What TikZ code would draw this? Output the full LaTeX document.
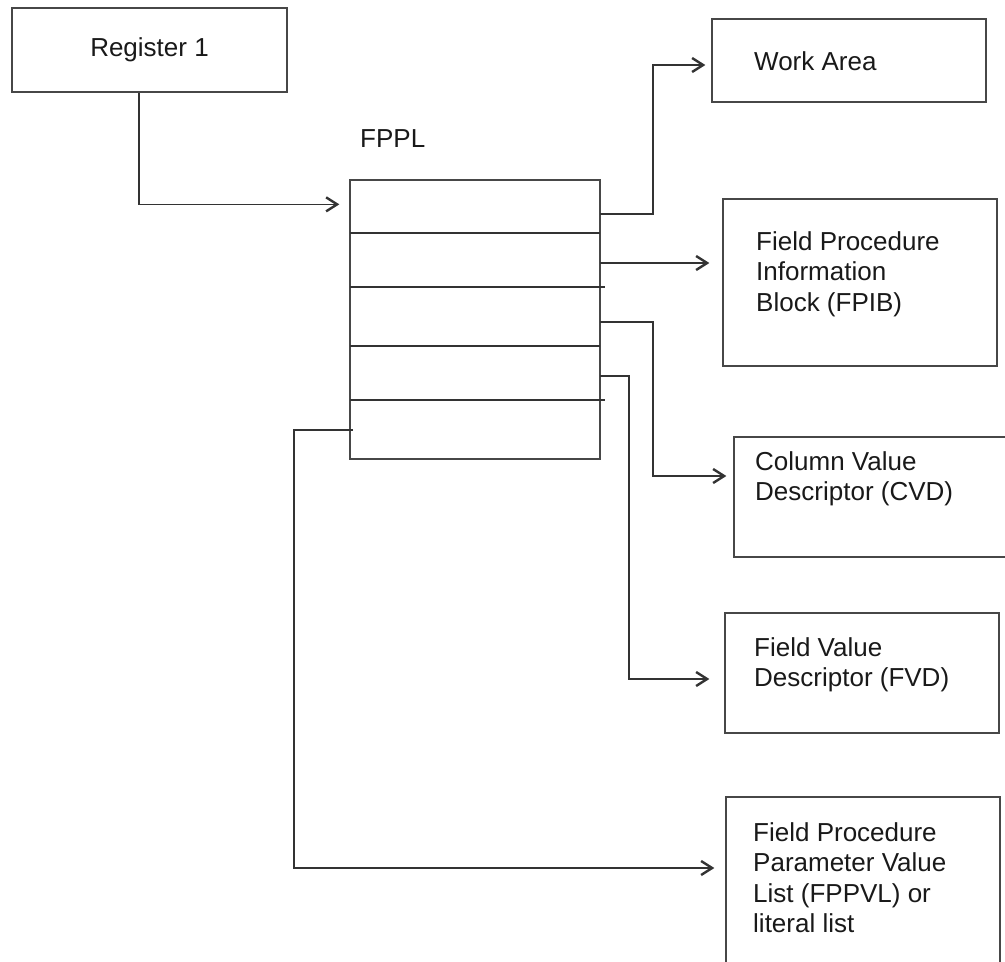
\documentclass[tikz,border=0pt]{standalone}
\usepackage{fontspec}
\setmainfont{Liberation Sans}
\usetikzlibrary{arrows.meta}
\begin{document}
\begin{tikzpicture}[x=1pt,y=-1pt,
  box/.style={draw=black!72,line width=1.3pt,rectangle,inner sep=0pt},
  lbl/.style={anchor=base west,inner sep=0pt,font=\fontsize{26}{30.5}\selectfont,text=black!90,align=left},
  conn/.style={draw=black!80,line width=1.3pt},
  arr/.style={conn,-{Straight Barb[length=11pt,width=14pt,line width=2.4pt]}},
  rowline/.style={draw=black!80,line width=1.3pt}]
\useasboundingbox (0,0) rectangle (1005,962);
% boxes
\node[box,minimum width=275pt,minimum height=84pt,font=\fontsize{26}{30.5}\selectfont,text=black!90] (reg) at (149.5,50) {Register 1};
\node[box,minimum width=250pt,minimum height=279pt] (fppl) at (475,319.5) {};
\node[box,minimum width=274pt,minimum height=83pt] (wa) at (849,60.5) {};
\node[box,minimum width=274pt,minimum height=167pt] (fpib) at (860,282.5) {};
\node[box,minimum width=276pt,minimum height=120pt] (cvd) at (872,497) {};
\node[box,minimum width=274pt,minimum height=120pt] (fvd) at (862,673) {};
\node[box,minimum width=274pt,minimum height=203pt] (fppvl) at (863,898.5) {};
% labels
\node[lbl] (fppllbl) at (360,147) {FPPL};
\node[lbl] (watxt) at (754,70) {Work Area};
\node[lbl,anchor=north west] (fpibtxt) at (756,231) {Field Procedure\\Information\\Block (FPIB)};
\node[lbl,anchor=north west] (cvdtxt) at (755,451) {Column Value\\Descriptor (CVD)};
\node[lbl,anchor=north west] (fvdtxt) at (754,637) {Field Value\\Descriptor (FVD)};
\node[lbl,anchor=north west] (fppvltxt) at (753,822) {Field Procedure\\Parameter Value\\List (FPPVL) or\\literal list};
% FPPL rows
\draw[rowline] (350,233) -- (600,233);
\draw[rowline] (350,287) -- (605,287);
\draw[rowline] (350,346) -- (600,346);
\draw[rowline] (350,400) -- (605,400);
% connector start points
\coordinate (s1) at (600,214);
\coordinate (s2) at (600,263);
\coordinate (s3) at (600,322);
\coordinate (s4) at (600,376);
\coordinate (s5) at (353,430);
% connectors
\draw[arr,shorten >=10pt] ([xshift=-10.5pt]reg.south) |- ([yshift=-25pt]fppl.north west);
\draw[arr,shorten >=6pt] (s1) -- ++(53,0) |- ([yshift=-4.5pt]wa.west);
\draw[arr,shorten >=13pt] (s2) -- (fpib.west |- s2);
\draw[arr,shorten >=7pt] (s3) -- ++(53,0) |- ([yshift=21pt]cvd.west);
\draw[arr,shorten >=15pt] (s4) -- ++(29,0) |- ([yshift=-6pt]fvd.west);
\draw[arr,shorten >=11pt] (s5) -- ++(-59,0) |- ([yshift=30.5pt]fppvl.west);
\end{tikzpicture}
\end{document}
